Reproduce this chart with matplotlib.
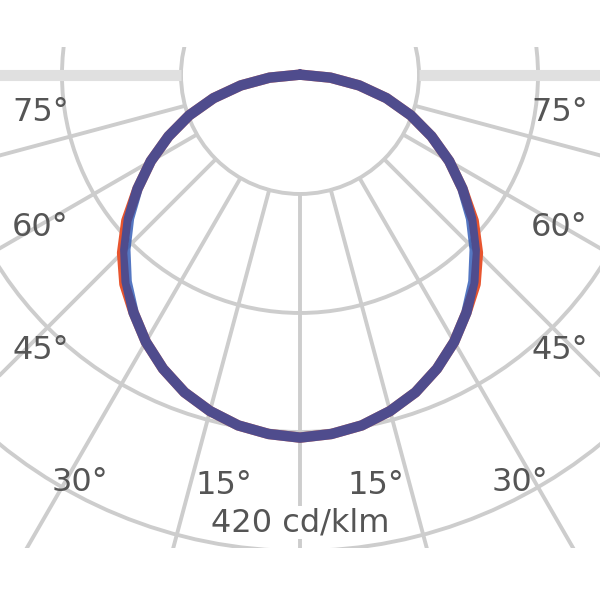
import numpy as np
import matplotlib
matplotlib.use("Agg")
import matplotlib.pyplot as plt
from matplotlib.patches import Circle

# ---- data (luminous intensity, cd/klm) ----
angles_deg = [0, 5, 10, 15, 20, 25, 30, 35, 40, 45, 50, 55, 60, 65, 70, 75, 80, 85, 90]
c0_c180 = [320, 318, 314, 307, 298, 286, 272, 256, 241, 222, 200, 175, 152, 128, 104, 79, 53, 27, 3]
c90_c270 = [320, 318, 314, 307, 298, 286, 272, 256, 238, 218, 197, 175, 152, 128, 104, 79, 53, 27, 3]
ring_values = [105, 210, 315, 420]
spoke_angles = list(range(-180, 181, 15))
angle_labels = ["75°", "60°", "45°", "30°", "15°"]
unit_label = "420 cd/klm"

# ---- layout ----
label_pos_left = [(-229, -33), (-229, -135), (-229, -243), (-194, -360), (-67, -362)]
FONT = ["DejaVu Sans"]
GRID = "#cdcdcd"
TXT = "#555555"

fig = plt.figure(figsize=(6, 6), dpi=100)
ax = fig.add_axes([0, 52 / 600, 1, 501 / 600])
ax.set_xlim(-264.7, 264.7)
ax.set_ylim(-417.4, 24.7)
ax.axis("off")

# rings
for r in ring_values:
    ax.add_patch(Circle((0, 0), r, fill=False, ec=GRID, lw=2.8, zorder=1))

# spokes (start at the inner ring)
r0 = ring_values[0]
r1 = 800
for a in spoke_angles:
    t = np.deg2rad(a)
    xs = [r0 * np.sin(t), r1 * np.sin(t)]
    ys = [-r0 * np.cos(t), -r1 * np.cos(t)]
    if abs(a) == 90:
        ax.plot(xs, ys, color="#e0e0e0", lw=8, zorder=1, solid_capstyle="butt")
    else:
        ax.plot(xs, ys, color=GRID, lw=2.8, zorder=1, solid_capstyle="butt")

# angle labels
for txt, (lx, ly) in zip(angle_labels, label_pos_left):
    ax.text(lx, ly, txt, ha="center", va="center", fontsize=23, color=TXT,
            family=FONT, zorder=3)
    ax.text(-lx, ly, txt, ha="center", va="center", fontsize=23, color=TXT,
            family=FONT, zorder=3)

ax.text(0, -395, unit_label, ha="center", va="center", fontsize=23, color=TXT,
        family=FONT, zorder=3,
        bbox=dict(facecolor="white", edgecolor="none", pad=1))

# curves (mirror the half-plane data)
def full_curve(vals):
    a = np.array(angles_deg, dtype=float)
    v = np.array(vals, dtype=float)
    aa = np.concatenate([-a[::-1], a[1:]])
    vv = np.concatenate([v[::-1], v[1:]])
    t = np.deg2rad(aa)
    return vv * np.sin(t), -vv * np.cos(t)

x0, y0 = full_curve(c0_c180)
x9, y9 = full_curve(c90_c270)
ax.plot(x0, y0, color="#e8552f", lw=7.5, zorder=4, solid_joinstyle="round")
ax.plot(x9, y9, color="#1c4aae", lw=7.5, alpha=0.75, zorder=5, solid_joinstyle="round")

fig.savefig("out.png", dpi=100, facecolor="white")
